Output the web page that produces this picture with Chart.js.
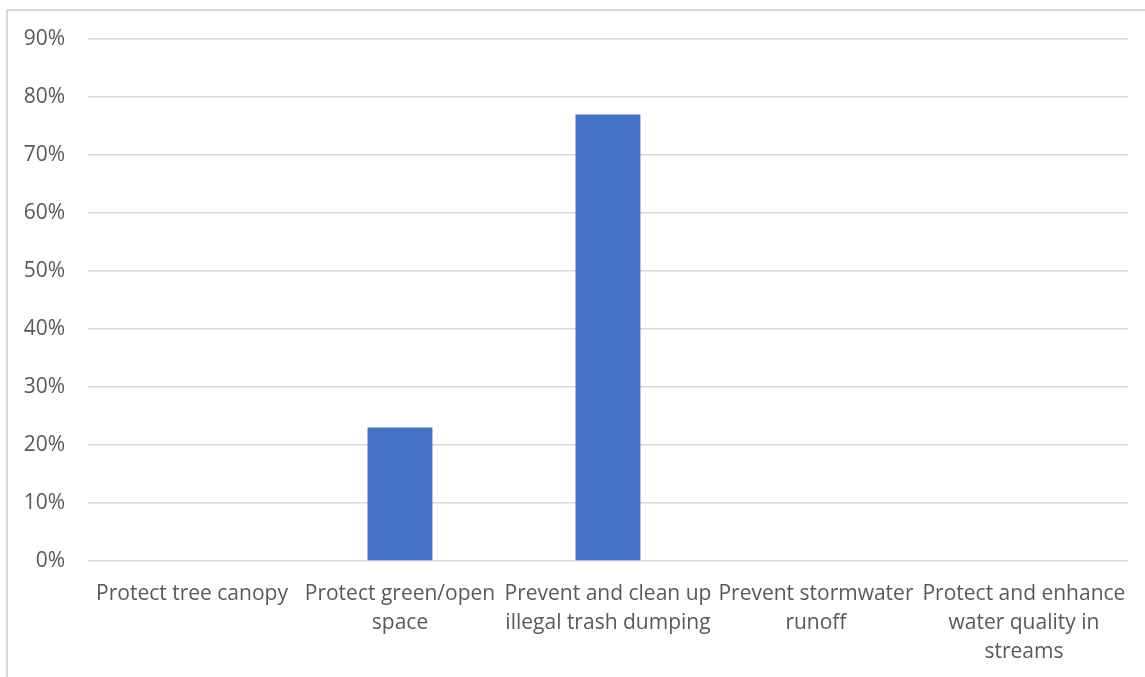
<!DOCTYPE html>
<html>
<head>
<meta charset="utf-8">
<script src="https://cdn.jsdelivr.net/npm/chart.js@4.4.0/dist/chart.umd.min.js"></script>
<style>
html,body{margin:0;padding:0;background:#fff;}
#wrap{position:absolute;left:0;top:0;width:1145px;height:677px;}
</style>
</head>
<body>
<div id="wrap"><canvas id="c" width="1145" height="677"></canvas></div>
<script>
const categories = [
  ["Protect tree canopy"],
  ["Protect green/open", "space"],
  ["Prevent and clean up", "illegal trash dumping"],
  ["Prevent stormwater", "runoff"],
  ["Protect and enhance", "water quality in", "streams"]
];
const values = [0, 23, 77, 0, 0];
const yMin = 0, yMax = 90, yStep = 10;

const borderPlugin = {
  id: 'outerBorder',
  beforeDraw(chart) {
    const ctx = chart.ctx;
    ctx.save();
    ctx.strokeStyle = '#d9d9d9';
    ctx.lineWidth = 2;
    ctx.beginPath();
    ctx.moveTo(7, 700);
    ctx.lineTo(7, 10);
    ctx.lineTo(1160, 10);
    ctx.stroke();
    ctx.restore();
  }
};

new Chart(document.getElementById('c'), {
  type: 'bar',
  data: {
    labels: categories,
    datasets: [{
      data: values,
      backgroundColor: '#4472C4',
      borderWidth: 0,
      barPercentage: 0.312,
      categoryPercentage: 1
    }]
  },
  plugins: [borderPlugin],
  options: {
    responsive: false,
    animation: false,
    devicePixelRatio: 1,
    layout: { padding: { left: 0, right: 16, top: 39, bottom: 0 } },
    plugins: { legend: { display: false }, tooltip: { enabled: false } },
    scales: {
      x: {
        grid: { display: false, drawTicks: false },
        border: { display: false },
        ticks: {
          color: '#595959',
          font: { family: 'Open Sans', size: 21, lineHeight: 1.4 },
          maxRotation: 0, minRotation: 0, autoSkip: false,
          padding: 18
        },
        afterFit(scale) { scale.height = 116; }
      },
      y: {
        min: yMin, max: yMax,
        grid: { color: '#d9d9d9', lineWidth: 1.5, drawTicks: false },
        border: { display: false },
        ticks: {
          stepSize: yStep,
          color: '#595959',
          font: { family: 'Open Sans', size: 21 },
          padding: 23,
          callback: v => v + '%'
        },
        afterFit(scale) { scale.width = 88; }
      }
    }
  }
});
</script>
</body>
</html>
